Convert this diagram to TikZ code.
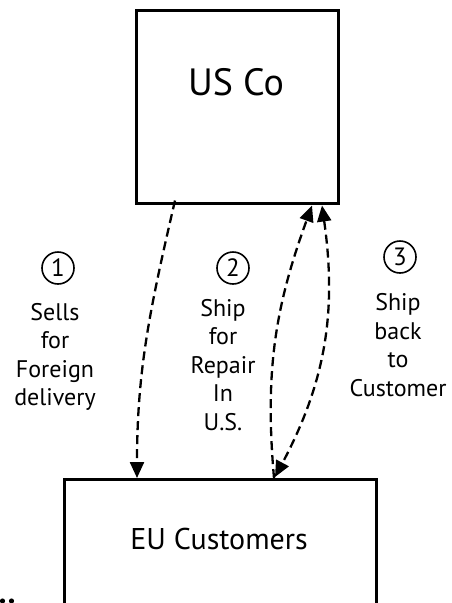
\documentclass[tikz,border=0pt]{standalone}
\usepackage{fontspec}
\setmainfont{PT Sans}
\usetikzlibrary{arrows.meta,calc}
\tikzset{
  box/.style={draw, line width=2.5pt, inner sep=0pt, anchor=north west},
  conn/.style={line width=2.3pt, dash pattern=on 9pt off 5pt},
  tip/.style={-{Triangle[length=16pt,width=14pt]}},
  lbl/.style={font=\fontsize{24}{28.5}\selectfont, align=center},
  num/.style={draw, circle, line width=1.6pt, minimum size=32pt, inner sep=0pt,
              font=\fontsize{25}{25}\selectfont},
}
\begin{document}
\begin{tikzpicture}[x=1pt,y=-1pt]
\useasboundingbox (0,0) rectangle (452,603);
\fill[white] (0,0) rectangle (452,603);
\node[box, minimum width=202pt, minimum height=193pt] (us) at (135,9) {};
\node[font=\fontsize{38}{40}\selectfont] (usl) at (236,82) {US Co};
\node[box, minimum width=312pt, minimum height=125pt] (eu) at (63,478) {};
\node[font=\fontsize{30}{32}\selectfont] (eul) at (219,539) {EU Customers};
\node[num] (n1) at (58,268) {1};
\node[num] (n2) at (233,268) {2};
\node[num] (n3) at (400,257) {3};
\node[lbl] (l1) at (55,357) {Sells\\for\\Foreign\\delivery};
\node[lbl] (l2) at (223,365) {Ship\\for\\Repair\\In\\U.S.};
\node[lbl] (l3) at (398,345) {Ship\\back\\to\\Customer};
\coordinate (a1s) at ($(us.south west)+(40,-4)$);
\coordinate (a1e) at ($(eu.north west)+(74,0)$);
\coordinate (a2s) at ($(eu.north west)+(211,0)$);
\coordinate (a2e) at ($(us.south west)+(177,1)$);
\coordinate (a3s) at ($(us.south west)+(187,1)$);
\coordinate (a3e) at ($(eu.north west)+(212,-1)$);
\draw[conn, tip] (a1s) to[out=-103, in=90] (a1e);
\draw[conn, tip] (a2s) to[out=95, in=-110] (a2e);
\draw[conn, {Triangle[length=16pt,width=14pt]}-{Triangle[length=16pt,width=14pt]}] (a3s) to[out=-82, in=62] (a3e);
\fill (2.5,601) circle (2.6pt);
\fill (11.5,601) circle (2.6pt);
\end{tikzpicture}
\end{document}
